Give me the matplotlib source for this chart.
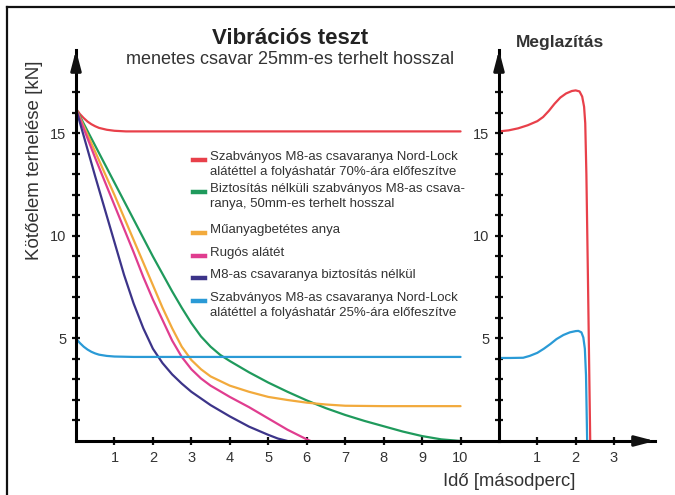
import matplotlib
matplotlib.use("Agg")
from matplotlib import pyplot as plt
from matplotlib.lines import Line2D

plt.rcParams['font.family'] = ['Liberation Sans', 'DejaVu Sans']

# --- data ---
# left panel: time [s] vs load [kN]
red_x = [0, 0.1, 0.2, 0.3, 0.4, 0.5, 0.6, 0.8, 1.0, 1.3, 10]
red_y = [16.2, 15.95, 15.75, 15.58, 15.45, 15.35, 15.27, 15.18, 15.13, 15.1, 15.1]

green_x = [0, 0.5, 1.0, 1.5, 2.0, 2.5, 2.75, 3.0, 3.25, 3.5, 3.75, 4.0, 4.5, 5.0,
           5.5, 6.0, 6.5, 7.0, 7.5, 8.0, 8.5, 9.0, 9.5, 10]
green_y = [16.2, 14.4, 12.6, 10.8, 9.0, 7.3, 6.5, 5.75, 5.1, 4.6, 4.2, 3.9, 3.35, 2.85,
           2.4, 1.98, 1.6, 1.27, 0.98, 0.72, 0.46, 0.24, 0.08, 0.0]

orange_x = [0, 0.5, 1.0, 1.5, 2.0, 2.25, 2.5, 2.75, 3.0, 3.25, 3.5, 4.0, 4.5, 5.0,
            5.5, 6.0, 6.5, 7.0, 8.0, 10]
orange_y = [16.2, 14.1, 12.0, 9.8, 7.6, 6.5, 5.5, 4.6, 3.95, 3.5, 3.15, 2.7, 2.4, 2.15,
            2.0, 1.87, 1.78, 1.72, 1.7, 1.7]

magenta_x = [0, 0.5, 1.0, 1.5, 1.75, 2.0, 2.25, 2.5, 2.75, 3.0, 3.25, 3.5, 4.0, 4.5,
             5.0, 5.5, 6.0, 6.1]
magenta_y = [16.2, 13.8, 11.5, 9.2, 8.0, 6.9, 5.9, 4.9, 4.1, 3.5, 3.05, 2.7, 2.15, 1.65,
             1.1, 0.55, 0.08, 0.0]

navy_x = [0, 0.5, 1.0, 1.25, 1.5, 1.75, 2.0, 2.25, 2.5, 2.75, 3.0, 3.5, 4.0, 4.5,
          5.0, 5.25, 5.5]
navy_y = [16.2, 12.9, 9.7, 8.1, 6.7, 5.5, 4.5, 3.8, 3.25, 2.8, 2.4, 1.75, 1.2, 0.7,
          0.3, 0.12, 0.0]

blue_x = [0, 0.1, 0.2, 0.3, 0.4, 0.5, 0.6, 0.8, 1.0, 1.5, 10]
blue_y = [5.0, 4.78, 4.6, 4.46, 4.35, 4.27, 4.21, 4.15, 4.12, 4.1, 4.1]

# right panel (Meglazitas)
loose_red_x = [0, 0.25, 0.5, 0.75, 1.0, 1.15, 1.3, 1.45, 1.6, 1.75, 1.9, 2.0, 2.1,
               2.17, 2.22, 2.25, 2.28, 2.32, 2.38]
loose_red_y = [15.1, 15.15, 15.25, 15.4, 15.6, 15.8, 16.1, 16.45, 16.75, 16.95, 17.07,
               17.1, 17.05, 16.8, 16.3, 15.5, 13.0, 8.0, 0.0]

loose_blue_x = [0, 0.3, 0.63, 0.8, 1.0, 1.17, 1.34, 1.5, 1.68, 1.85, 2.0, 2.07, 2.15,
                2.2, 2.24, 2.27, 2.3]
loose_blue_y = [4.05, 4.05, 4.06, 4.15, 4.3, 4.5, 4.73, 4.97, 5.17, 5.3, 5.36, 5.37,
                5.3, 5.05, 4.5, 3.2, 0.0]

labels = [
    "Szabványos M8-as csavaranya Nord-Lock\nalátéttel a folyáshatár 70%-ára előfeszítve",
    "Biztosítás nélküli szabványos M8-as csava-\nranya, 50mm-es terhelt hosszal",
    "Műanyagbetétes anya",
    "Rugós alátét",
    "M8-as csavaranya biztosítás nélkül",
    "Szabványos M8-as csavaranya Nord-Lock\nalátéttel a folyáshatár 25%-ára előfeszítve",
]
colors = ["#e8404a", "#1f9a5c", "#f2aa3c", "#e03d8f", "#3c3489", "#2a9ad6"]

left_xticks = list(range(1, 11))
right_xticks = [1, 2, 3]
yticks = list(range(1, 18))
ylabels_shown = [5, 10, 15]

fig = plt.figure(figsize=(6.75, 4.95), dpi=100)
W, H = 675, 495

ax = fig.add_axes([76 / W, 54 / H, 423 / W, 391 / H])
ax2 = fig.add_axes([499 / W, 54 / H, 156 / W, 391 / H])

series = [(red_x, red_y), (green_x, green_y), (orange_x, orange_y),
          (magenta_x, magenta_y), (navy_x, navy_y), (blue_x, blue_y)]
for (xs, ys), c in zip(series, colors):
    ax.plot(xs, ys, color=c, lw=1.6, solid_joinstyle='round', solid_capstyle='round')

ax2.plot(loose_red_x, loose_red_y, color=colors[0], lw=1.6, solid_joinstyle='round')
ax2.plot(loose_blue_x, loose_blue_y, color=colors[5], lw=1.6, solid_joinstyle='round')

arrow_style = '-|>,head_length=0.65,head_width=0.17'
ax.set_xlim(0, 11)
ax2.set_xlim(0, 4.07)
for a in (ax, ax2):
    a.set_ylim(0, 19.07)
    a.spines['top'].set_visible(False)
    a.spines['right'].set_visible(False)
    a.spines['left'].set_linewidth(2.2)
    a.spines['bottom'].set_linewidth(2.2)
    a.set_yticks(yticks)
    a.set_yticklabels([str(v) if v in ylabels_shown else "" for v in yticks])
    a.tick_params(direction='inout', length=6, width=1.6, labelsize=10.5,
                  colors='#111111', labelcolor='#333333', pad=4)
    a.patch.set_alpha(0)
    # arrow on the y axis
    a.annotate('', xy=(0, 1.0), xytext=(0, 0.95), xycoords='axes fraction',
               arrowprops=dict(arrowstyle=arrow_style, color='#111111', lw=2.2,
                               mutation_scale=18, shrinkA=0, shrinkB=0))
ax.set_xticks(left_xticks)
ax2.set_xticks(right_xticks)
ax2.annotate('', xy=(1.0, 0), xytext=(0.88, 0), xycoords='axes fraction',
             arrowprops=dict(arrowstyle=arrow_style, color='#111111', lw=2.2,
                             mutation_scale=18, shrinkA=0, shrinkB=0))

# legend drawn by hand (short thick dashes)
leg_rows = [158, 190, 231, 254, 276, 299]
for lab, c, yy in zip(labels, colors, leg_rows):
    yf = 1 - yy / H
    fig.add_artist(Line2D([193 / W, 205 / W], [yf - 0.004, yf - 0.004], color=c, lw=3.2))
    fig.text(210 / W, yf + 0.014, lab, fontsize=9.5, color='#333333', va='top',
             linespacing=1.38)

fig.text(290 / W, 1 - 38 / H, "Vibrációs teszt", fontsize=16, fontweight='bold',
         color='#222222', ha='center', va='center')
fig.text(290 / W, 1 - 60 / H, "menetes csavar 25mm-es terhelt hosszal", fontsize=13,
         color='#333333', ha='center', va='center')
fig.text(560 / W, 1 - 42 / H, "Meglazítás", fontsize=12.5, fontweight='bold',
         color='#333333', ha='center', va='center')
fig.text(35 / W, 1 - 160 / H, "Kötőelem terhelése [kN]", fontsize=13.5, rotation=90,
         color='#333333', ha='center', va='center')
fig.text(509 / W, 1 - 481 / H, "Idő [másodperc]", fontsize=13.3,
         color='#333333', ha='center', va='center')

# page frame (top and left edge)
fig.add_artist(Line2D([7 / W, 1], [1 - 7 / H, 1 - 7 / H], color='#111111', lw=1.6))
fig.add_artist(Line2D([7 / W, 7 / W], [0, 1 - 7 / H], color='#111111', lw=1.6))

fig.savefig("out.png", dpi=100)
